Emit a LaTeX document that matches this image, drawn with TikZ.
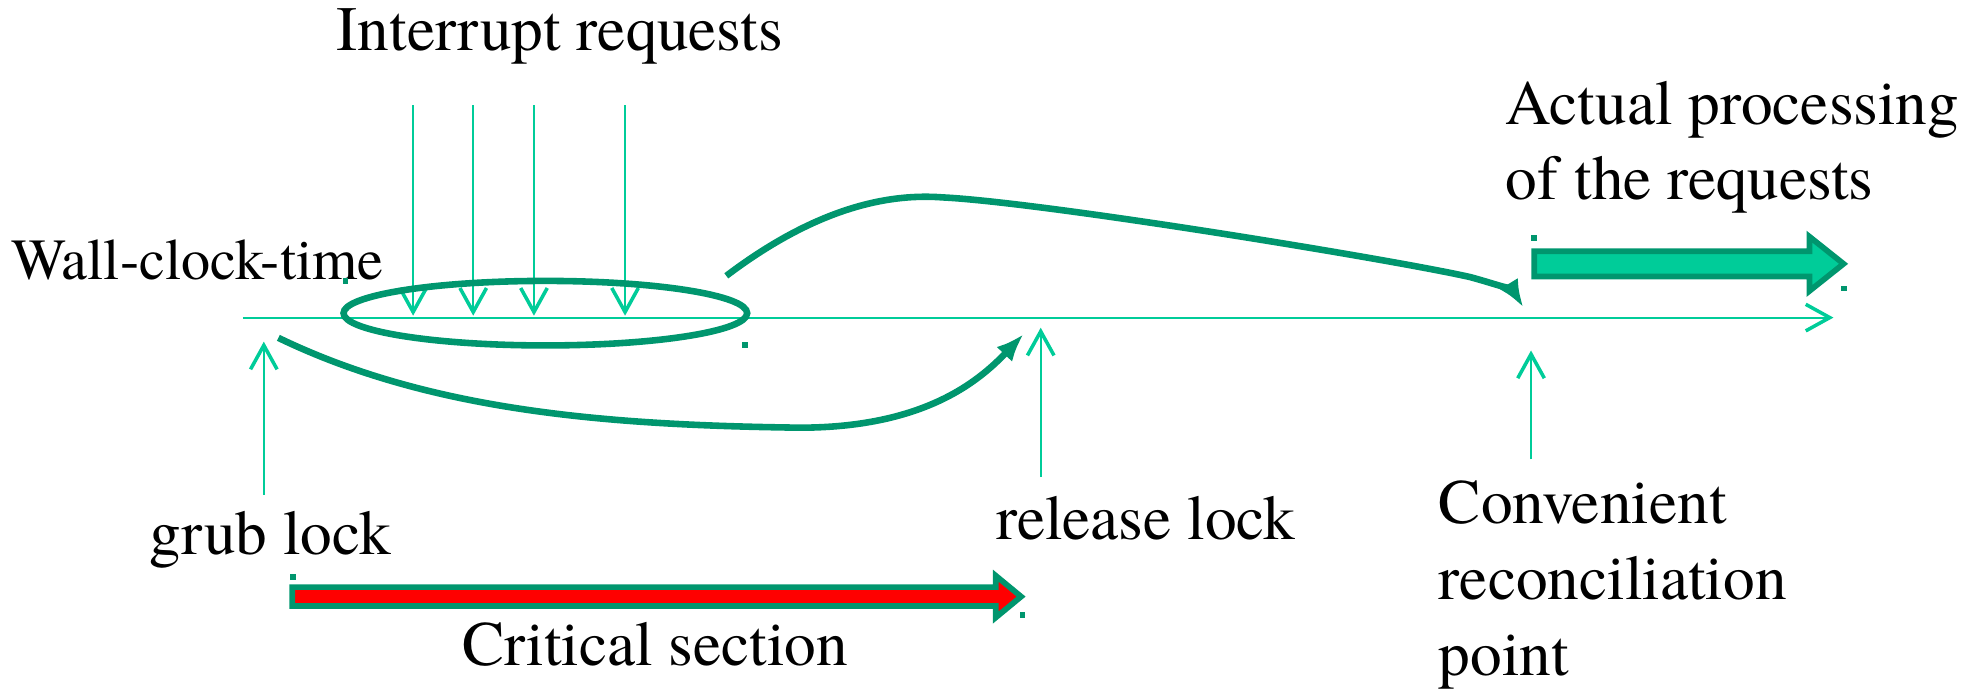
\documentclass[tikz,border=0pt]{standalone}
\usepackage{fontspec}
\setmainfont{texgyretermes}[Extension=.otf, UprightFont=*-regular]
\newfontfamily\timesx{texgyretermes}[Extension=.otf, UprightFont=*-regular]
\usetikzlibrary{arrows.meta,shapes.geometric}
\definecolor{lightg}{RGB}{0,204,153}
\definecolor{darkg}{RGB}{0,150,110}
\definecolor{redf}{RGB}{255,0,0}
\begin{document}
\begin{tikzpicture}[x=1pt,y=-1pt,
  lbl/.style={inner sep=0pt, anchor=base west, font=\timesx\fontsize{50}{60}\selectfont},
  thinline/.style={draw=lightg, line width=1.5pt, -{Straight Barb[length=19pt,width=21pt,line width=2.8pt]}},
  thickcurve/.style={draw=darkg, line width=5.2pt, -{Latex[length=22pt,width=17pt]}},
  handle/.style={fill=darkg, draw=none},
  bigarrow/.style={line width=4.5pt, draw=darkg, miter limit=10, line join=miter}]
\useasboundingbox (0,0) rectangle (1568,547);

% texts
\node[lbl] (tint) at (266,40) {Interrupt requests};
\node[lbl, font=\timesx\fontsize{46}{55}\selectfont] (twall) at (9,221) {Wall-clock-time};
\node[lbl] (tact1) at (1190,98.5) {Actual processing};
\node[lbl] (tact2) at (1190,157.5) {of the requests};
\node[lbl] (tgrub) at (118,438.5) {grub lock};
\node[lbl] (trel) at (787,426) {release lock};
\node[lbl] (tcon1) at (1137,414) {Convenient};
\node[lbl] (tcon2) at (1137,474) {reconciliation};
\node[lbl] (tcon3) at (1137,534) {point};
\node[lbl] (tcrit) at (365,526) {Critical section};

% coordinates
\coordinate (axs) at (192,251);
\coordinate (axe) at (1449,251);
\foreach \i/\x in {1/326.5,2/374,3/422,4/494}{
  \coordinate (ir\i s) at (\x,83);
  \coordinate (ir\i e) at (\x,249.5);
}
\coordinate (gs) at (208.5,391);
\coordinate (ge) at (208.5,270);
\coordinate (rs) at (822.5,377);
\coordinate (re) at (822.5,259);
\coordinate (cs) at (1210,363);
\coordinate (ce) at (1210,277);
\coordinate (uc0) at (574,218);
\coordinate (uc1) at (745,156);
\coordinate (uc2) at (1162,219);
\coordinate (uc3) at (1204,243);
\coordinate (lc0) at (220,267);
\coordinate (lc1) at (632,338);
\coordinate (lc2) at (809,264);

% axis
\draw[thinline] (axs) -- (axe);
% interrupt requests
\foreach \i in {1,2,3,4}{ \draw[thinline] (ir\i s) -- (ir\i e); }
% vertical markers
\draw[thinline] (gs) -- (ge);
\draw[thinline] (rs) -- (re);
\draw[thinline] (cs) -- (ce);

% ellipse
\node[draw=darkg, line width=5.2pt, ellipse, inner sep=0pt, minimum width=319pt, minimum height=51pt] (ell) at (431,247.5) {};

% curves
\draw[thickcurve] (uc0) .. controls (648,162) and (705,153) .. (uc1)
   .. controls (825,160) and (1100,205) .. (uc2)
   .. controls (1184,225) and (1196,230) .. (uc3);
\draw[thickcurve] (lc0) .. controls (340,325) and (480,336) .. (lc1)
   .. controls (728,338) and (772,303) .. (lc2);

% big arrows
\draw[bigarrow, fill=lightg] (1212.5,198.5) -- (1430,198.5) -- (1430,187) -- (1457,208.5)
   -- (1430,230) -- (1430,218.5) -- (1212.5,218.5) -- cycle;
\draw[bigarrow, fill=redf] (231,464) -- (787,464) -- (787,455) -- (807,471.5)
   -- (787,488) -- (787,479) -- (231,479) -- cycle;

% handles
\foreach \x/\y in {273/222, 589/272.5, 1212.5/188, 1457.5/228, 231.5/456, 808/486}{
  \fill[handle] (\x-2.2,\y-2.2) rectangle (\x+2.2,\y+2.2);
}
\end{tikzpicture}
\end{document}
